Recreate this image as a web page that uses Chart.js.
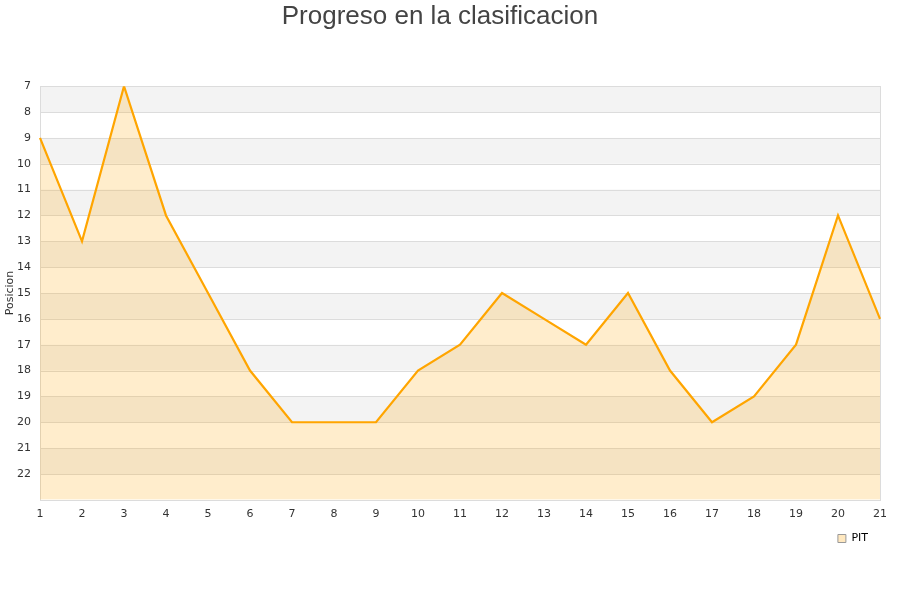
<!DOCTYPE html>
<html>
<head>
<meta charset="utf-8">
<script src="https://cdn.jsdelivr.net/npm/chart.js@4.4.0/dist/chart.umd.min.js"></script>
<style>
  html, body { margin: 0; padding: 0; background: #fff; }
  #wrap { width: 900px; height: 600px; }
</style>
</head>
<body>
<div id="wrap"><canvas id="rankChart" width="900" height="600"></canvas></div>
<script>
// Jornadas y posiciones
const jornadas = ['1','2','3','4','5','6','7','8','9','10','11','12','13','14','15','16','17','18','19','20','21'];
const posicionesPIT = [9, 13, 7, 12, 15, 18, 20, 20, 20, 18, 17, 15, 16, 17, 15, 18, 20, 19, 17, 12, 16];
const posMin = 7;
const posMax = 23;

/**
 * Alternating horizontal bands behind the data, plus a frame round the plot
 */
const bandsPlugin = {
    id: 'bands',
    beforeDatasetsDraw(chart) {
        const ctx = chart.ctx;
        const area = chart.chartArea;
        const y = chart.scales.y;
        ctx.save();
        ctx.fillStyle = '#f3f3f3';
        for (let v = posMin; v < posMax; v += 2) {
            const top = y.getPixelForValue(v);
            const bottom = y.getPixelForValue(v + 1);
            ctx.fillRect(area.left, top, area.right - area.left, bottom - top);
        }
        ctx.strokeStyle = '#dcdcdc';
        ctx.lineWidth = 1;
        for (let v = posMin; v <= posMax; v++) {
            const py = Math.round(y.getPixelForValue(v)) + 0.5;
            ctx.beginPath();
            ctx.moveTo(area.left, py);
            ctx.lineTo(area.right, py);
            ctx.stroke();
        }
        ctx.strokeRect(Math.round(area.left) + 0.5, Math.round(area.top) + 0.5,
            Math.round(area.right - area.left), Math.round(area.bottom - area.top));
        ctx.restore();
    }
};

document.addEventListener('DOMContentLoaded', function() {
    const ctx = document.getElementById('rankChart').getContext('2d');
    new Chart(ctx, {
        type: 'line',
        data: {
            labels: jornadas,
            datasets: [{
                label: 'PIT',
                data: posicionesPIT,
                borderColor: '#ffa500',
                backgroundColor: 'rgba(255, 165, 0, 0.2)',
                borderWidth: 2.2,
                pointRadius: 0,
                tension: 0,
                fill: { value: posMax }
            }]
        },
        options: {
            responsive: false,
            animation: false,
            layout: { padding: { left: 0, right: 20, top: 0, bottom: 46 } },
            plugins: {
                title: {
                    display: true,
                    text: 'Progreso en la clasificacion',
                    color: '#444',
                    font: { family: '"Liberation Sans", Arial, sans-serif', size: 26, weight: 'normal' },
                    padding: { top: 1, bottom: 54 }
                },
                legend: {
                    position: 'bottom',
                    align: 'end',
                    labels: {
                        color: '#222',
                        font: { family: '"DejaVu Sans", sans-serif', size: 11 },
                        boxWidth: 8,
                        boxHeight: 8,
                        padding: 12,
                        generateLabels: function(chart) {
                            return [{
                                text: 'PIT',
                                fillStyle: 'rgba(255, 165, 0, 0.25)',
                                strokeStyle: '#999',
                                lineWidth: 1,
                                datasetIndex: 0
                            }];
                        }
                    }
                },
                tooltip: { enabled: false }
            },
            scales: {
                x: {
                    grid: { display: false },
                    border: { display: false },
                    offset: false,
                    ticks: {
                        color: '#333',
                        font: { family: '"DejaVu Sans", sans-serif', size: 11 },
                        maxRotation: 0,
                        autoSkip: false,
                        padding: 0
                    }
                },
                y: {
                    reverse: true,
                    min: posMin,
                    max: posMax,
                    grid: { display: false },
                    border: { display: false },
                    afterFit: function(scale) { scale.width = 40; },
                    title: {
                        display: true,
                        text: 'Posicion',
                        color: '#333',
                        font: { family: '"DejaVu Sans", sans-serif', size: 11 },
                        padding: { top: 4, bottom: 0 }
                    },
                    ticks: {
                        stepSize: 1,
                        color: '#333',
                        font: { family: '"DejaVu Sans", sans-serif', size: 11 },
                        padding: 1,
                        callback: function(value) {
                            return value === posMax ? '' : value;
                        }
                    }
                }
            }
        },
        plugins: [bandsPlugin]
    });
});
</script>
</body>
</html>
